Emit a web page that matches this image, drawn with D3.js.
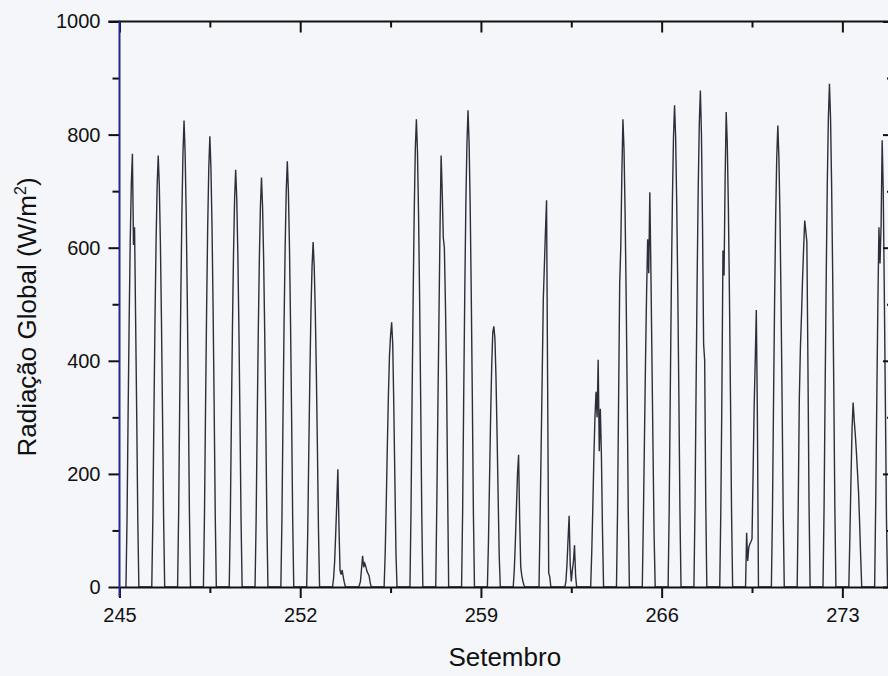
<!DOCTYPE html>
<html>
<head>
<meta charset="utf-8">
<script src="https://cdn.jsdelivr.net/npm/d3@7"></script>
<style>
  html, body { margin: 0; padding: 0; background: #f4f6fa; }
  svg { display: block; }
  text { font-family: "Liberation Sans", Arial, Helvetica, sans-serif; fill: #111; }
</style>
</head>
<body>
<svg id="chart" width="888" height="676"></svg>
<script>
// Dias do ano (setembro) e horas de amostragem de cada dia
const dias = [245, 246, 247, 248, 249, 250, 251, 252, 253, 254,
              255, 256, 257, 258, 259, 260, 261, 262, 263, 264,
              265, 266, 267, 268, 269, 270, 271, 272, 273, 274];
const horas = [6, 7, 8, 9, 10, 11, 12, 13, 14, 15, 16, 17, 18];

// Radiação global horária (W/m²), uma linha por dia, das 6h às 18h
const radiacao = [
  [0, 120, 305, 475, 615, 715, 766, 605, 636, 470, 305, 120, 0],  // 245
  [0, 122, 305, 473, 610, 710, 763, 710, 610, 473, 305, 122, 0],  // 246
  [0, 132, 330, 512, 660, 767, 825, 767, 660, 512, 330, 132, 0],  // 247
  [0, 128, 319, 494, 638, 741, 797, 741, 638, 494, 319, 128, 0],  // 248
  [0, 118, 295, 458, 590, 686, 738, 686, 590, 458, 295, 118, 0],  // 249
  [0, 116, 290, 449, 579, 673, 724, 673, 579, 449, 290, 116, 0],  // 250
  [0, 120, 301, 467, 602, 700, 753, 700, 602, 467, 301, 120, 0],  // 251
  [0, 98, 244, 378, 488, 567, 610, 567, 488, 378, 244, 98, 0],    // 252
  [0, 15, 45, 95, 150, 208, 110, 30, 22, 30, 18, 8, 0],           // 253
  [0, 3, 10, 32, 55, 35, 42, 36, 28, 24, 20, 8, 0],               // 254
  [0, 60, 150, 250, 340, 410, 445, 468, 430, 320, 190, 60, 0],    // 255
  [0, 135, 335, 515, 665, 775, 827, 770, 660, 510, 330, 130, 0],  // 256
  [0, 150, 320, 480, 640, 763, 700, 618, 600, 500, 380, 180, 0],  // 257
  [0, 135, 340, 525, 680, 785, 843, 785, 675, 520, 335, 130, 0],  // 258
  [0, 80, 190, 300, 390, 450, 461, 440, 370, 270, 160, 55, 0],    // 259
  [0, 30, 80, 140, 200, 234, 120, 35, 20, 10, 3, 0, 0],           // 260
  [0, 120, 250, 380, 510, 570, 630, 684, 360, 25, 18, 0, 0],      // 261
  [0, 10, 40, 85, 126, 40, 10, 30, 45, 74, 20, 0, 0],             // 262
  [0, 60, 140, 230, 300, 345, 300, 402, 240, 315, 232, 100, 0],   // 263
  [0, 135, 335, 537, 600, 730, 827, 775, 665, 515, 335, 130, 0],  // 264
  [0, 120, 260, 400, 520, 615, 555, 698, 560, 400, 240, 90, 0],   // 265
  [0, 135, 340, 530, 685, 795, 852, 795, 680, 525, 340, 135, 0],  // 266
  [0, 140, 350, 545, 705, 820, 878, 800, 640, 430, 400, 150, 0],  // 267
  [0, 135, 340, 595, 551, 720, 840, 785, 675, 520, 335, 130, 0],  // 268
  [0, 96, 46, 70, 76, 80, 85, 200, 320, 400, 490, 300, 0],        // 269
  [0, 130, 325, 505, 655, 760, 816, 760, 655, 505, 325, 130, 0],  // 270
  [0, 150, 335, 424, 480, 545, 600, 648, 630, 610, 390, 150, 0],  // 271
  [0, 142, 355, 550, 715, 830, 890, 830, 712, 552, 356, 142, 0],  // 272
  [0, 90, 190, 280, 326, 295, 270, 240, 205, 170, 115, 55, 0],    // 273
  [0, 150, 330, 500, 636, 572, 640, 790, 700, 520, 320, 120, 0]   // 274
];

const xTicks = [245, 252, 259, 266, 273];
const xMinorTicks = [248.5, 255.5, 262.5, 269.5];
const yTicks = [0, 200, 400, 600, 800, 1000];
const yMinorTicks = [100, 300, 500, 700, 900];

// Série contínua: dia + fração do dia
const serie = [];
dias.forEach((d, i) => {
  horas.forEach((h, j) => serie.push({ t: d + h / 24, v: radiacao[i][j] }));
});

const svg = d3.select("#chart");
const W = 888, H = 676;
svg.append("rect").attr("width", W).attr("height", H).attr("fill", "#f4f6fa");

const x = d3.scaleLinear().domain([245, 275]).range([119.5, 894]);
const y = d3.scaleLinear().domain([0, 1000]).range([587, 21.5]);

const xLeft = x.range()[0], xRight = x.range()[1];
const yTop = y.range()[1], yBottom = y.range()[0];

// Curva de radiação
svg.append("path")
  .datum(serie)
  .attr("fill", "none")
  .attr("stroke", "#2e2e3a")
  .attr("stroke-width", 1.4)
  .attr("stroke-linejoin", "miter")
  .attr("d", d3.line().x(d => x(d.t)).y(d => y(d.v)));

function styleAxis(g, color) {
  g.select(".domain").attr("stroke", color || "#111").attr("stroke-width", 2);
  g.selectAll(".tick line").attr("stroke", "#111").attr("stroke-width", 2);
  g.selectAll(".tick text").attr("font-size", 20).attr("fill", "#111")
    .attr("font-family", '"Liberation Sans", Arial, sans-serif');
}
function minorTicks(g) {
  g.select(".domain").remove();
  g.selectAll(".tick line").attr("stroke", "#111").attr("stroke-width", 2);
}

// Eixo inferior
const gB = svg.append("g").attr("transform", `translate(0,${yBottom})`)
  .call(d3.axisBottom(x).tickValues(xTicks).tickSize(11).tickSizeOuter(0).tickPadding(10).tickFormat(d3.format("d")));
styleAxis(gB);
svg.append("g").attr("transform", `translate(0,${yBottom})`)
  .call(d3.axisBottom(x).tickValues(xMinorTicks).tickSize(6).tickSizeOuter(0).tickFormat(""))
  .call(minorTicks);

// Eixo superior (marcas para dentro)
const gT = svg.append("g").attr("transform", `translate(0,${yTop})`)
  .call(d3.axisBottom(x).tickValues(xTicks).tickSize(11).tickSizeOuter(0).tickFormat(""));
styleAxis(gT);
gT.select(".domain").attr("d", `M${xLeft - 11},0H${xRight}`);
svg.append("g").attr("transform", `translate(0,${yTop})`)
  .call(d3.axisBottom(x).tickValues(xMinorTicks).tickSize(6).tickSizeOuter(0).tickFormat(""))
  .call(minorTicks);

// Eixo direito (marcas para dentro)
const gR = svg.append("g").attr("transform", `translate(${xRight},0)`)
  .call(d3.axisLeft(y).tickValues(yTicks).tickSize(11).tickSizeOuter(0).tickFormat(""));
styleAxis(gR);
svg.append("g").attr("transform", `translate(${xRight},0)`)
  .call(d3.axisLeft(y).tickValues(yMinorTicks).tickSize(7).tickSizeOuter(0).tickFormat(""))
  .call(minorTicks);

// Eixo esquerdo
const gL = svg.append("g").attr("transform", `translate(${xLeft},0)`)
  .call(d3.axisLeft(y).tickValues(yTicks).tickSize(11).tickSizeOuter(0).tickPadding(8).tickFormat(d3.format("d")));
styleAxis(gL);
gL.select(".domain").remove();
svg.append("g").attr("transform", `translate(${xLeft},0)`)
  .call(d3.axisLeft(y).tickValues(yMinorTicks).tickSize(7).tickSizeOuter(0).tickFormat(""))
  .call(minorTicks);
svg.append("line")
  .attr("x1", xLeft).attr("x2", xLeft)
  .attr("y1", yTop - 1).attr("y2", yBottom + 10)
  .attr("stroke", "#24288c").attr("stroke-width", 2);

// Títulos dos eixos
svg.append("text")
  .attr("x", (xLeft + xRight) / 2 - 2).attr("y", 666)
  .attr("text-anchor", "middle").attr("font-size", 26)
  .text("Setembro");

const yt = svg.append("text")
  .attr("transform", "translate(36,317) rotate(-90)")
  .attr("text-anchor", "middle").attr("font-size", 26);
yt.append("tspan").text("Radiação Global (W/m");
yt.append("tspan").attr("font-size", 16).attr("dy", -10).text("2");
yt.append("tspan").attr("dy", 10).text(")");
</script>
</body>
</html>
